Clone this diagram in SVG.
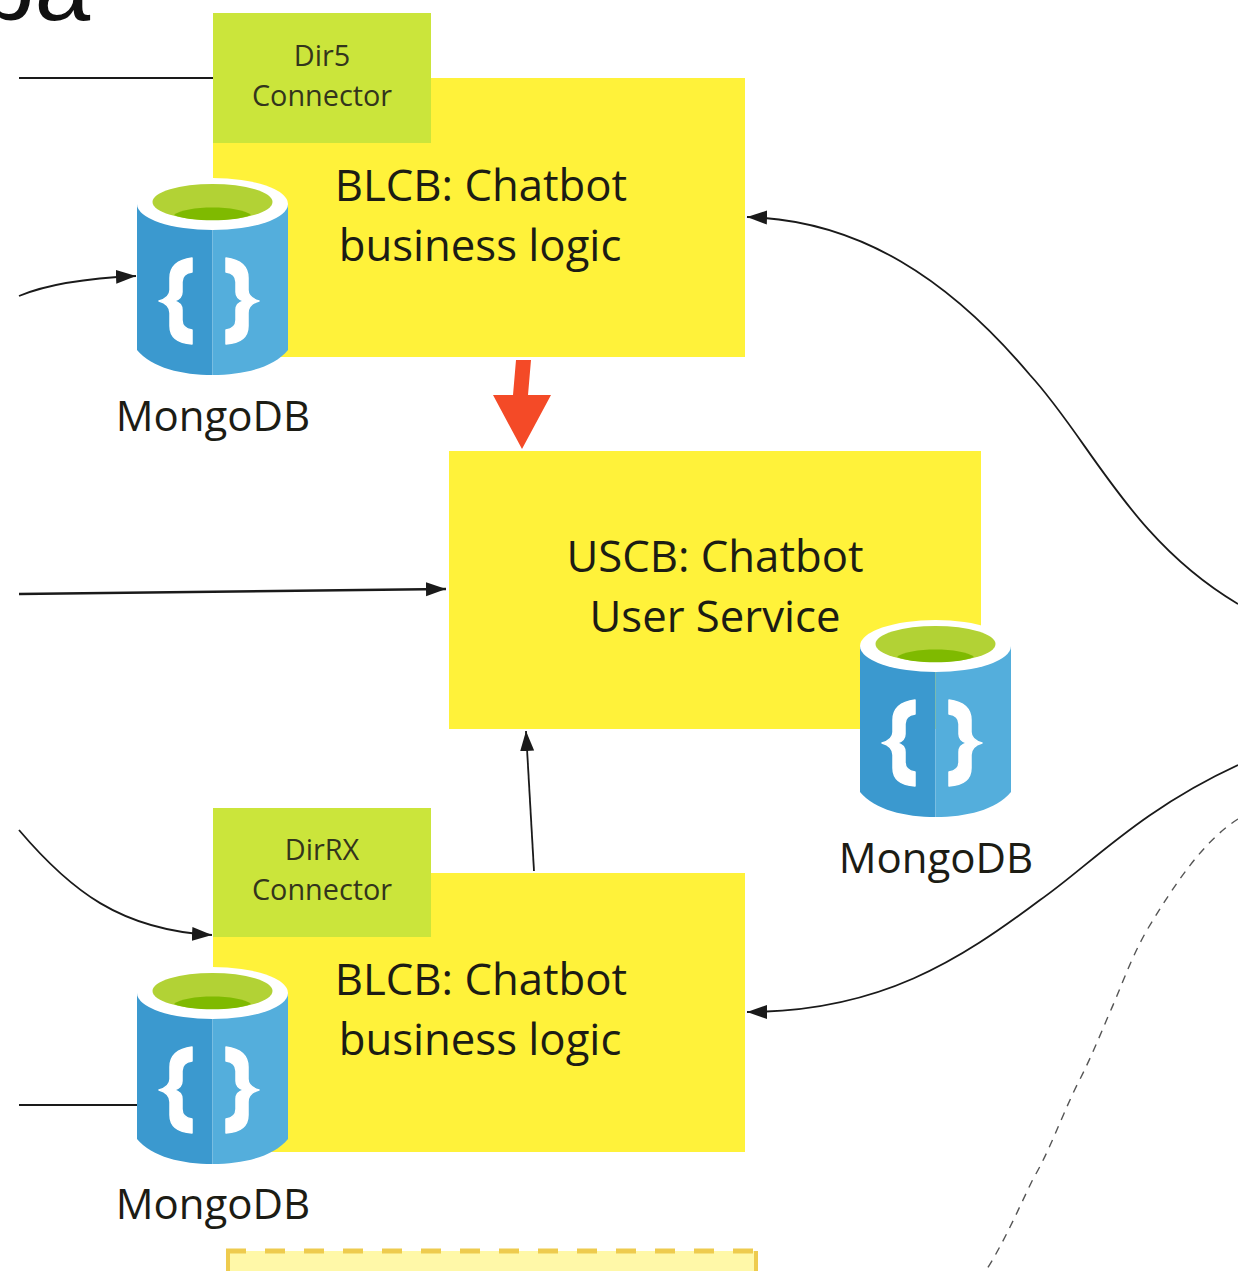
<svg xmlns="http://www.w3.org/2000/svg" width="1238" height="1271" viewBox="0 0 1238 1271">
<style>
text{font-family:"Open Sans","Noto Sans","DejaVu Sans",sans-serif;fill:#1c1c14;text-anchor:middle}
.box{fill:#fff23a}
.con{fill:#cbe53b}
.t{font-size:43.7px}
.s{font-size:28.8px;fill:#33351c}
.m{font-size:42px}
.l{fill:none;stroke:#1a1a1a;stroke-width:1.8}
</style>
<defs>
<marker id="a" markerUnits="userSpaceOnUse" markerWidth="22" markerHeight="16" refX="20" refY="8" orient="auto"><path d="M0 1 L20 8 L0 15 Z" fill="#1a1a1a"/></marker>
<path id="br" d="M55 80 C40 82 33 88 33 100 L33 112 C33 118 29 121 22 123 C29 125 33 129 33 135 L33 148 C33 159 40 165 55 166 L55 152 C48 151 45 148 45 142 L45 132 C45 126 41 124 37 123 C41 122 45 119 45 114 L45 104 C45 98 48 95 55 94 Z" fill="#fff" stroke="#fff" stroke-width="1.5" stroke-linejoin="round"/>
<g id="db">
<path d="M0 26 H75.5 V197 C45 197 15 190 0 172 Z" fill="#3b99cf"/>
<path d="M151 26 H75.5 V197 C106 197 136 190 151 172 Z" fill="#54aedc"/>
<ellipse cx="75.5" cy="26" rx="75.5" ry="26" fill="#fff"/>
<ellipse cx="75.5" cy="24" rx="60" ry="18" fill="#b2d235"/>
<path d="M37 37 C48 27 103 27 114 37 C98 44 53 44 37 37 Z" fill="#7fba00"/>
<use href="#br"/>
<use href="#br" transform="translate(144 0) scale(-1 1)"/>
</g>
</defs>
<rect width="1238" height="1271" fill="#fff"/>
<text x="-21" y="20" style="font-size:100px;font-family:'Liberation Sans',sans-serif;text-anchor:start;fill:#111">ba</text>
<g id="connectors">
<path class="l" d="M19 78 H213"/>
<path class="l" d="M19 296 C50 283 90 278 136 276" marker-end="url(#a)"/>
<path class="l" style="stroke-width:2.6" d="M19 594 L446 589" marker-end="url(#a)"/>
<path class="l" d="M19 830 C70 890 120 930 212 935" marker-end="url(#a)"/>
<path class="l" d="M19 1105 H137"/>
<path class="l" d="M534 871 L526 731" marker-end="url(#a)"/>
<path class="l" d="M1238 604 C1130 540 1090 440 1030 375 C950 280 860 220 747 217" marker-end="url(#a)"/>
<path class="l" d="M1238 765 C1140 810 1090 865 1040 900 C960 960 880 1012 747 1012" marker-end="url(#a)"/>
<path d="M1238 819 C1205 840 1177 880 1147 930 C1130 960 1120 990 1110 1012 C1098 1040 1090 1060 1077 1085 C1060 1120 1050 1150 1033 1179 C1018 1210 1005 1240 987 1269" fill="none" stroke="#555" stroke-width="1.4" stroke-dasharray="8 7"/>
<path d="M516 360 H531 L528 395 H551 L522 449 L493 395 H513 Z" fill="#f44a27"/>
</g>
<g id="blcb1"><rect class="box" x="213" y="78" width="532" height="279"/><text class="t" x="481" y="201">BLCB: Chatbot</text><text class="t" x="480" y="261">business logic</text></g>
<g id="dir5"><rect class="con" x="213" y="13" width="218" height="130"/><text class="s" x="322" y="66">Dir5</text><text class="s" x="322" y="106">Connector</text></g>
<g id="db1"><use href="#db" x="137" y="178"/><text class="m" x="213" y="431">MongoDB</text></g>
<g id="uscb"><rect class="box" x="449" y="451" width="532" height="278"/><text class="t" x="715" y="572">USCB: Chatbot</text><text class="t" x="715" y="632">User Service</text></g>
<g id="db2"><use href="#db" x="860" y="620"/><text class="m" x="936" y="873">MongoDB</text></g>
<g id="blcb2"><rect class="box" x="213" y="873" width="532" height="279"/><text class="t" x="481" y="995">BLCB: Chatbot</text><text class="t" x="480" y="1055">business logic</text></g>
<g id="dirrx"><rect class="con" x="213" y="808" width="218" height="129"/><text class="s" x="322" y="860">DirRX</text><text class="s" x="322" y="900">Connector</text></g>
<g id="db3"><use href="#db" x="137" y="967"/><text class="m" x="213" y="1219">MongoDB</text></g>
<g id="dashed"><rect x="228" y="1251" width="528" height="20" fill="#fff8a8"/><path d="M226 1251 H756" fill="none" stroke="#eecb4e" stroke-width="5" stroke-dasharray="20 19"/><path d="M228 1251 V1271 M756 1251 V1271" fill="none" stroke="#eecb4e" stroke-width="4"/></g>
</svg>
